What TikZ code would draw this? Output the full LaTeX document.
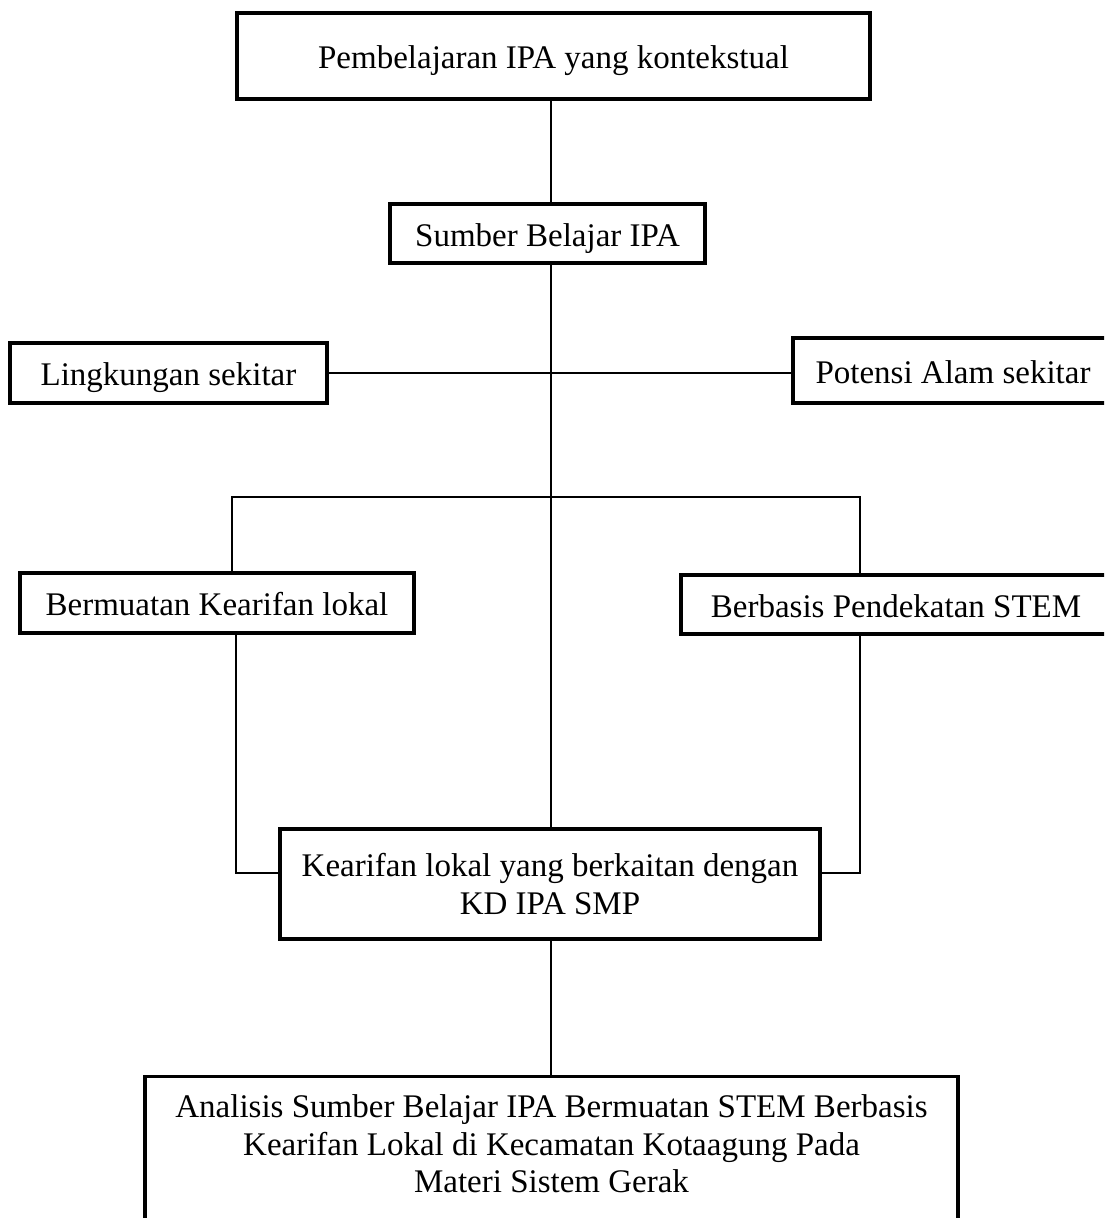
\documentclass[tikz,border=0pt]{standalone}
\usepackage{fontspec}
\setmainfont{Liberation Serif}
\usetikzlibrary{positioning}

\begin{document}
\begin{tikzpicture}[x=1pt,y=-1pt,line width=1.7pt,font=\fontsize{33}{37.5}\selectfont]
 \tikzstyle{kotak}=[draw,line width=3.2pt,inner sep=0pt,align=center]
 \tikzstyle{satu}=[kotak,text height=28pt,text depth=3pt]
 \useasboundingbox (0,0) rectangle (1104,1218);
 \clip (0,0) rectangle (1104,1218);

   \node[satu,minimum width=633,minimum height=86] (top) at (553.5,56) {Pembelajaran IPA yang kontekstual};
   \node[satu,minimum width=315,minimum height=59] (sumber) at (547.5,233.5) {Sumber Belajar IPA};
   \node[satu,minimum width=317,minimum height=60] (lingk) at (168.5,373) {Lingkungan sekitar};
   \node[satu,minimum width=320,minimum height=65] (potensi) at (953,370.5) {Potensi Alam sekitar};
   \node[satu,minimum width=394,minimum height=60] (lokal) at (217,603) {Bermuatan Kearifan lokal};
   \node[satu,minimum width=430,minimum height=59] (stem) at (896,604.5) {Berbasis Pendekatan STEM};
   \node[kotak,minimum width=540,minimum height=110] (kd) at (550,884) {Kearifan lokal yang berkaitan dengan\\KD IPA SMP};
   \node[kotak,anchor=north,minimum width=813,inner ysep=18pt,text depth=120pt] (analisis) at (551.5,1075)
     {Analisis Sumber Belajar IPA Bermuatan STEM Berbasis\\Kearifan Lokal di Kecamatan Kotaagung Pada\\Materi Sistem Gerak};

   % titik sambung
   \coordinate (t) at (551,497);
   \coordinate (cabkiri) at (232,497);
   \coordinate (cabkanan) at (860,497);
   \coordinate (kiri) at (236,873);
   \coordinate (kanan) at (860,873);

  \draw (top.south -| t) -- (sumber.north -| t);
  \draw (sumber.south -| t) -- (kd.north -| t);
  \draw (lingk.east) -- (potensi.west |- lingk.east);
  \draw (lokal.north -| cabkiri) |- (cabkanan) -- (stem.north -| cabkanan);
  \draw (lokal.south -| kiri) -- (kiri) -- (kd.west |- kiri);
  \draw (stem.south -| kanan) -- (kanan) -- (kd.east |- kanan);
  \draw (kd.south -| t) -- (analisis.north -| t);

\end{tikzpicture}
\end{document}
